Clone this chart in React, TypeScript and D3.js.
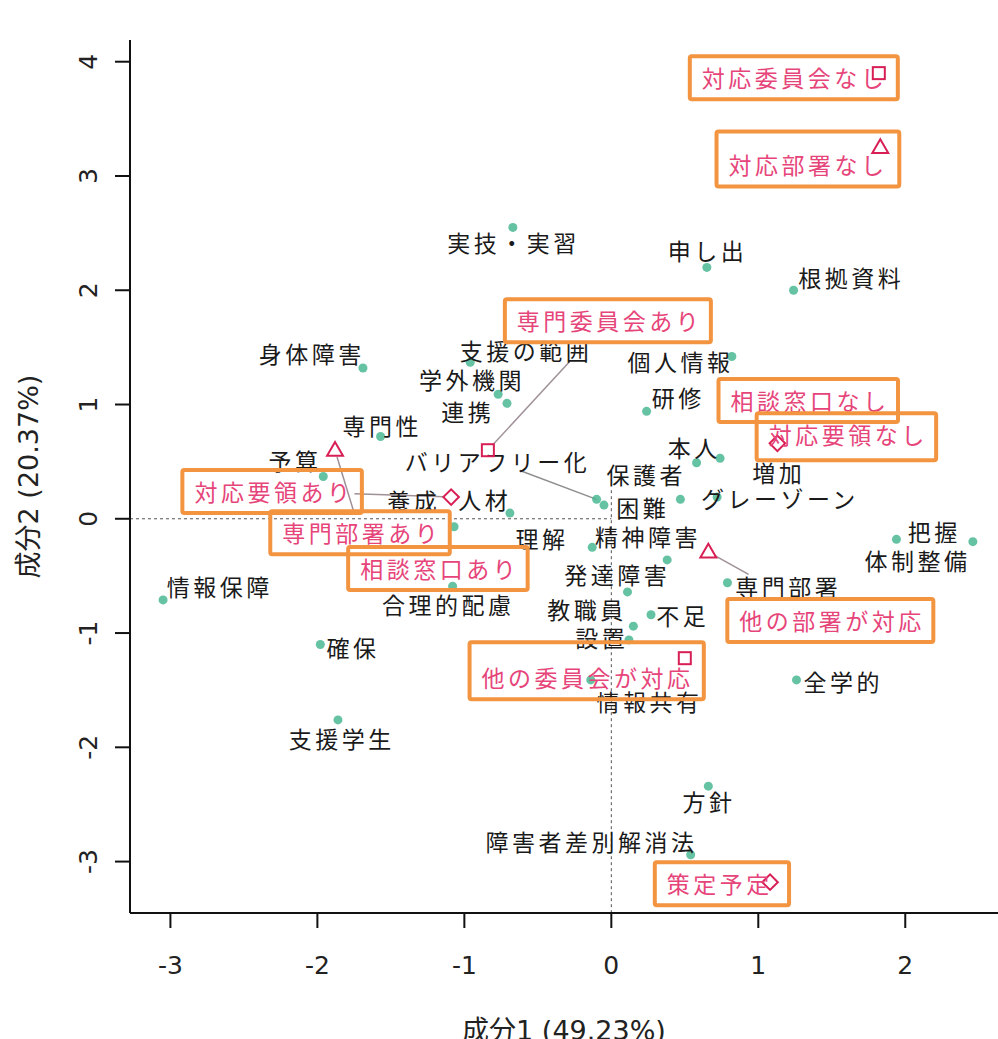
import React from "react";
import * as d3 from "d3";

// ---- data ----
const termNames = ["実技・実習","申し出","根拠資料","身体障害","支援の範囲","学外機関","連携","専門性","研修","個人情報","本人","増加","バリアフリー化","保護者","グレーゾーン","困難","理解","精神障害","発達障害","教職員","不足","設置","専門部署","人材","養成","予算","合理的配慮","情報保障","確保","支援学生","全学的","方針","障害者差別解消法","情報共有","把握","体制整備"];
const termX = [-0.67,0.65,1.24,-1.69,-0.96,-0.77,-0.71,-1.57,0.24,0.82,0.58,0.74,-0.10,0.47,0.72,-0.05,-0.13,0.38,0.11,0.15,0.27,0.12,0.79,-0.69,-1.07,-1.96,-1.08,-3.05,-1.98,-1.86,1.26,0.66,0.54,-0.14,1.94,2.46];
const termY = [2.55,2.20,2.00,1.32,1.37,1.09,1.01,0.72,0.94,1.42,0.49,0.53,0.17,0.17,0.19,0.12,-0.25,-0.36,-0.64,-0.94,-0.84,-1.06,-0.56,0.05,-0.07,0.37,-0.59,-0.71,-1.10,-1.76,-1.41,-2.34,-2.94,-1.41,-0.18,-0.20];

const catNames = ["対応委員会なし","対応部署なし","専門委員会あり","専門部署あり","対応要領あり","相談窓口あり","相談窓口なし","対応要領なし","他の部署が対応","他の委員会が対応","策定予定"];
const catX = [1.82,1.83,-0.84,-1.88,-1.09,-1.18,1.34,1.13,0.66,0.50,1.08];
const catY = [3.90,3.25,0.60,0.60,0.19,-0.43,1.04,0.66,-0.29,-1.22,-3.18];
const catShape = ["square","triangle","square","triangle","diamond","none","none","diamond","triangle","square","diamond"];

const xTicks = [-3,-2,-1,0,1,2];
const yTicks = [-3,-2,-1,0,1,2,3,4];
const xTitle = "成分1 (49.23%)";
const yTitle = "成分2 (20.37%)";

// ---- layout (label offsets in px, from the point to the label centre) ----
const termLabelDx = [-1,-1,56,-53,54,-28,-41,0,30,-53,-4,57,-101,-36,61,37,-52,-21,-12,-48,30,-29,59,-27,-42,-30,-6,55,31,2,45,-1,-101,57,36,-57];
const termLabelDy = [15,-17,-13,-15,-12,-15,8,-12,-14,4,-16,14,-38,-25,1,2,-9,-24,-18,-17,0,-3,3,-14,-27,-17,18,-14,3,18,1,15,-14,21,-8,18];
const termSegment = [0,0,0,0,0,0,0,0,0,0,0,0,0.76,0,0,0,0,0,0,0,0,0,0,0,0,0,0,0,0,0,0,0,0,0,0,0];
const catLabelDx = [-86,-74,120,25,-179,0,0,69,122,-99,-52];
const catLabelDy = [4,17,-130,82,-6,0,0,-9,68,19,1];
const catSegment = [0,0,0.68,0.76,0.54,0,0,0,0.33,0,0];
const catBoxWithMarker = [true,true,false,false,false,false,false,true,false,true,true];

const W = 998, H = 1039;
const FS = 23, LS = 3.5;
const CJK = "'Noto Sans CJK JP', 'Noto Sans CJK SC', sans-serif";
const NUM = "'DejaVu Sans', 'Noto Sans CJK JP', sans-serif";

function textW(s: string) {
  return s.length * (FS + LS) - LS;
}

export default function App() {
  const x = d3.scaleLinear().domain([-3.275, 2.631]).range([130, 998]);
  const y = d3.scaleLinear().domain([-3.45, 4.19]).range([913, 40]);
  const left = 130, bottom = 913, top = 40;

  const tri = d3.symbol().type(d3.symbolTriangle).size(110)();
  const marker = (shape: string, cx: number, cy: number, k: number) => {
    const col = "#d81f55";
    if (shape === "square")
      return <rect key={k} x={cx - 6} y={cy - 6} width={12} height={12} fill="none" stroke={col} strokeWidth={2} />;
    if (shape === "triangle")
      return <path key={k} d={tri as string} transform={`translate(${cx},${cy + 1})`} fill="none" stroke={col} strokeWidth={2} />;
    if (shape === "diamond")
      return <rect key={k} x={cx - 5.5} y={cy - 5.5} width={11} height={11} transform={`rotate(45 ${cx} ${cy})`} fill="none" stroke={col} strokeWidth={2} />;
    return null;
  };

  const label = (s: string, cx: number, cy: number, fill: string, k: string) => (
    <text key={k} x={cx + LS / 2} y={cy} textAnchor="middle" dominantBaseline="central"
      fontFamily={CJK} fontSize={FS} letterSpacing={LS} fill={fill}>{s}</text>
  );

  return (
    <svg width={W} height={H} style={{ position: "absolute", left: 0, top: 0, display: "block", background: "#fff" }}>
      {/* reference lines */}
      <line x1={left} x2={x(0)} y1={y(0)} y2={y(0)} stroke="#555" strokeWidth={1} strokeDasharray="3,3" />
      <line x1={x(0)} x2={x(0)} y1={y(0.25)} y2={bottom} stroke="#555" strokeWidth={1} strokeDasharray="3,3" />

      {/* axes */}
      <line x1={left} x2={left} y1={top} y2={bottom} stroke="#111" strokeWidth={2} />
      <line x1={left} x2={W} y1={bottom} y2={bottom} stroke="#111" strokeWidth={2} />
      {yTicks.map((t) => (
        <g key={"yt" + t}>
          <line x1={left - 15} x2={left} y1={y(t)} y2={y(t)} stroke="#111" strokeWidth={2} />
          <text transform={`translate(${88},${y(t)}) rotate(-90)`} textAnchor="middle" dominantBaseline="central"
            fontFamily={NUM} fontSize={25} fill="#222">{t}</text>
        </g>
      ))}
      {xTicks.map((t) => (
        <g key={"xt" + t}>
          <line x1={x(t)} x2={x(t)} y1={bottom} y2={bottom + 15} stroke="#111" strokeWidth={2} />
          <text x={x(t)} y={965} textAnchor="middle" dominantBaseline="central"
            fontFamily={NUM} fontSize={25} fill="#222">{t}</text>
        </g>
      ))}
      <text x={(left + W) / 2} y={1030} textAnchor="middle" dominantBaseline="central" fontFamily={NUM} fontSize={27} fill="#222">{xTitle}</text>
      <text transform={`translate(28,${(top + bottom) / 2}) rotate(-90)`} textAnchor="middle" dominantBaseline="central" fontFamily={NUM} fontSize={27} fill="#222">{yTitle}</text>

      {/* term segments */}
      {termNames.map((n, i) => {
        if (!termSegment[i]) return null;
        const px = x(termX[i]), py = y(termY[i]);
        const f = termSegment[i];
        return <line key={"ts" + i} x1={px} y1={py} x2={px + termLabelDx[i] * f} y2={py + termLabelDy[i] * f} stroke="#8f8f8f" strokeWidth={1.5} />;
      })}
      {/* category segments */}
      {catNames.map((n, i) => {
        if (!catSegment[i]) return null;
        const px = x(catX[i]), py = y(catY[i]);
        const f = catSegment[i];
        const len = Math.hypot(catLabelDx[i], catLabelDy[i]);
        const s = 7 / len;
        return <line key={"cs" + i} x1={px + catLabelDx[i] * s} y1={py + catLabelDy[i] * s} x2={px + catLabelDx[i] * f} y2={py + catLabelDy[i] * f} stroke="#a09098" strokeWidth={1.5} />;
      })}

      {/* term points */}
      {termNames.map((n, i) => (
        <circle key={"tp" + i} cx={x(termX[i])} cy={y(termY[i])} r={4.5} fill="#3fb38c" opacity={0.8} />
      ))}
      {/* term labels */}
      {termNames.map((n, i) => label(n, x(termX[i]) + termLabelDx[i], y(termY[i]) + termLabelDy[i], "#1a1a1a", "tl" + i))}

      {/* category markers, labels and boxes */}
      {catNames.map((n, i) => {
        const px = x(catX[i]), py = y(catY[i]);
        const lx = px + catLabelDx[i], ly = py + catLabelDy[i];
        const tw = textW(n);
        let x0 = lx - tw / 2, x1 = lx + tw / 2, y0 = ly - 13, y1 = ly + 13;
        if (catBoxWithMarker[i] && catShape[i] !== "none") {
          x0 = Math.min(x0, px - 7); x1 = Math.max(x1, px + 7);
          y0 = Math.min(y0, py - 8); y1 = Math.max(y1, py + 8);
        }
        x0 -= 12; x1 += 12; y0 -= 8; y1 += 9;
        return (
          <g key={"c" + i}>
            {marker(catShape[i], px, py, i)}
            {label(n, lx, ly, "#e6457a", "cl" + i)}
            <rect x={x0} y={y0} width={x1 - x0} height={y1 - y0} rx={2} fill="none" stroke="#f39441" strokeWidth={4} />
          </g>
        );
      })}
    </svg>
  );
}
